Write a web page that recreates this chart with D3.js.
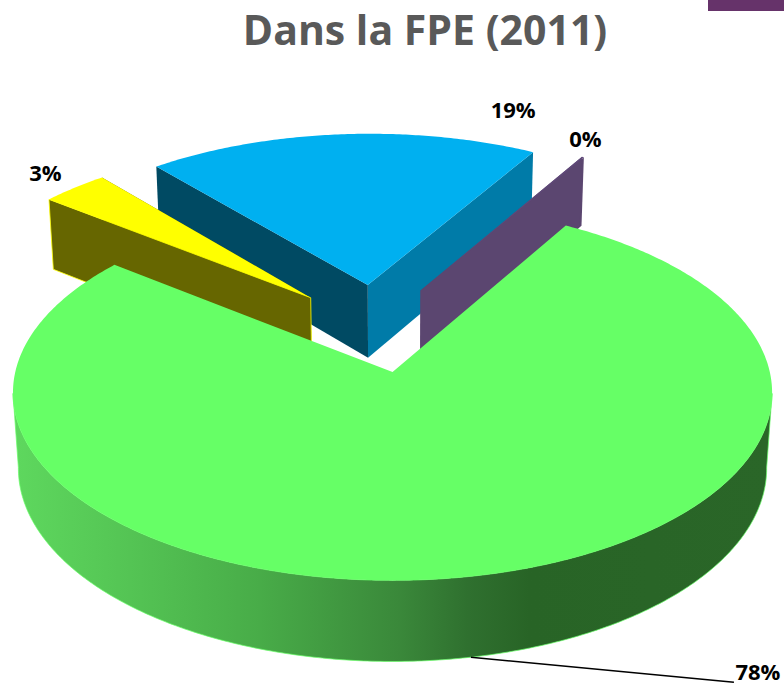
<!DOCTYPE html>
<html>
<head>
<meta charset="utf-8">
<script src="https://d3js.org/d3.v7.min.js"></script>
<style>
  html, body { margin: 0; padding: 0; background: #fff; }
  svg { display: block; }
  text { font-family: "Open Sans", sans-serif; font-weight: 700; }
</style>
</head>
<body>
<div id="chart"></div>
<script>
// values, in clockwise order
var sliceNames = ["yellow", "blue", "purple", "green"];
var sliceValues = [3.3, 19.4, 0.1, 77.2];
var sliceLabels = ["3%", "19%", "0%", "78%"];
var topColors = ["#ffff00", "#00b0f0", "#60497a", "#66ff66"];
var startWallColors = ["#666600", "#004a63", "#5b4670", "#2b6b2b"];
var endWallColors = ["#666600", "#007ba8", "#5b4670", "#2b6b2b"];

// shading along the side of the big slice
var wallStops = [0, 0.154, 0.325, 0.51, 0.6, 0.68, 1];
var wallStopColors = ["#5ed85e", "#54c454", "#48ac48", "#3a883a", "#2f702f", "#286426", "#2a6628"];

var width = 784, height = 684;

var svg = d3.select("#chart").append("svg")
  .attr("width", width)
  .attr("height", height);

// the corner of the slide's purple band
svg.append("rect")
  .attr("x", 708).attr("y", 0)
  .attr("width", 76).attr("height", 11)
  .attr("fill", "#66336a");

svg.append("text")
  .attr("x", 425)
  .attr("y", 45)
  .attr("text-anchor", "middle")
  .attr("font-size", 41)
  .attr("fill", "#595959")
  .text("Dans la FPE (2011)");

// camera for the tilted pie: a unit disc seen from above
var originX = 392.5, originY = 372;
var viewDist = 9.15, focalX = 3452, focalY = 3012, tilt = 0.5635;
var thickness = 0.232;
var explode = 0.25;
var centerX = -0.047, centerY = 0.245;

function project(x, y, z) {
  var w = viewDist + y - z * tilt;
  return [
    originX + focalX * x / w,
    originY - (focalY * tilt * y + focalY * z) / w
  ];
}

var pie = d3.pie()
  .sort(null)
  .value(d => d.value)
  .startAngle(-51.9 * Math.PI / 180)
  .endAngle((360 - 51.9) * Math.PI / 180);

var slices = pie(sliceNames.map((name, i) => ({ name: name, value: sliceValues[i], index: i })));

// apex of a slice once it has been pulled away from the centre
function apexOf(s) {
  var mid = (s.startAngle + s.endAngle) / 2;
  return [centerX + explode * Math.sin(mid), centerY + explode * Math.cos(mid)];
}

function rimPoint(s, angle, z) {
  var apex = apexOf(s);
  return project(apex[0] + Math.sin(angle), apex[1] + Math.cos(angle), z);
}

function rimArc(s, z) {
  var steps = Math.max(2, Math.ceil((s.endAngle - s.startAngle) / 0.01));
  var angle = d3.scaleLinear().domain([0, steps]).range([s.startAngle, s.endAngle]);
  return d3.range(steps + 1).map(i => rimPoint(s, angle(i), z));
}

// part of an arc between its right-most and left-most points
function frontOf(arc) {
  return arc.slice(d3.greatestIndex(arc, p => p[0]), d3.leastIndex(arc, p => p[0]) + 1);
}

var line = d3.line().curve(d3.curveLinear);

var defs = svg.append("defs");
var wallGradient = defs.append("linearGradient")
  .attr("id", "wallGradient")
  .attr("gradientUnits", "userSpaceOnUse")
  .attr("x1", 13).attr("x2", 772)
  .attr("y1", 0).attr("y2", 0);
wallGradient.selectAll("stop")
  .data(wallStops)
  .enter()
  .append("stop")
  .attr("offset", d => d)
  .attr("stop-color", (d, i) => wallStopColors[i]);

// painter's order, back to front
var drawOrder = [1, 2, 0, 3];
var pieGroup = svg.append("g");

drawOrder.forEach(function(i) {
  var s = slices[i];
  var apex = apexOf(s);
  var apexTop = project(apex[0], apex[1], 0);
  var apexBottom = project(apex[0], apex[1], -thickness);
  var topArc = rimArc(s, 0);
  var bottomArc = rimArc(s, -thickness);

  // only the big slice shows its outer side
  if (s.data.name === "green") {
    var frontTop = frontOf(topArc);
    var frontBottom = frontOf(bottomArc);
    pieGroup.append("path")
      .attr("d", line(frontTop.concat(frontBottom.slice().reverse())) + "Z")
      .attr("fill", "url(#wallGradient)")
      .attr("stroke", "#66ff66")
      .attr("stroke-opacity", 0.7)
      .attr("stroke-width", 1);
  } else {
    // the two cut faces
    var endWall = [apexTop, topArc[topArc.length - 1], bottomArc[bottomArc.length - 1], apexBottom];
    pieGroup.append("path")
      .attr("d", line(endWall) + "Z")
      .attr("fill", endWallColors[i]);

    var startWall = [apexTop, topArc[0], bottomArc[0], apexBottom];
    pieGroup.append("path")
      .attr("d", line(startWall) + "Z")
      .attr("fill", startWallColors[i])
      .attr("stroke", s.data.name === "yellow" ? topColors[i] : "none")
      .attr("stroke-width", 0.8);
  }

  pieGroup.append("path")
    .attr("d", line([apexTop].concat(topArc)) + "Z")
    .attr("fill", topColors[i]);
});

// labels, placed from each slice's outer edge
var labelOffsets = [[-29, -7], [172, -16], [2.5, -10], [287, 23]];

var labelAnchors = slices.map(function(s) {
  var mid = (s.startAngle + s.endAngle) / 2;
  return rimPoint(s, mid, s.data.name === "green" ? -thickness : 0);
});

svg.selectAll(".label")
  .data(slices)
  .enter()
  .append("text")
  .attr("class", "label")
  .attr("x", (d, i) => labelAnchors[i][0] + labelOffsets[i][0])
  .attr("y", (d, i) => labelAnchors[i][1] + labelOffsets[i][1])
  .attr("text-anchor", "middle")
  .attr("font-size", 22)
  .attr("fill", "#000")
  .text((d, i) => sliceLabels[i]);

// leader line of the big slice
var leaderStart = labelAnchors[3];
svg.append("path")
  .attr("d", line([leaderStart, [leaderStart[0] + 263, leaderStart[1] + 25]]))
  .attr("fill", "none")
  .attr("stroke", "#000")
  .attr("stroke-width", 1.5);
</script>
</body>
</html>
